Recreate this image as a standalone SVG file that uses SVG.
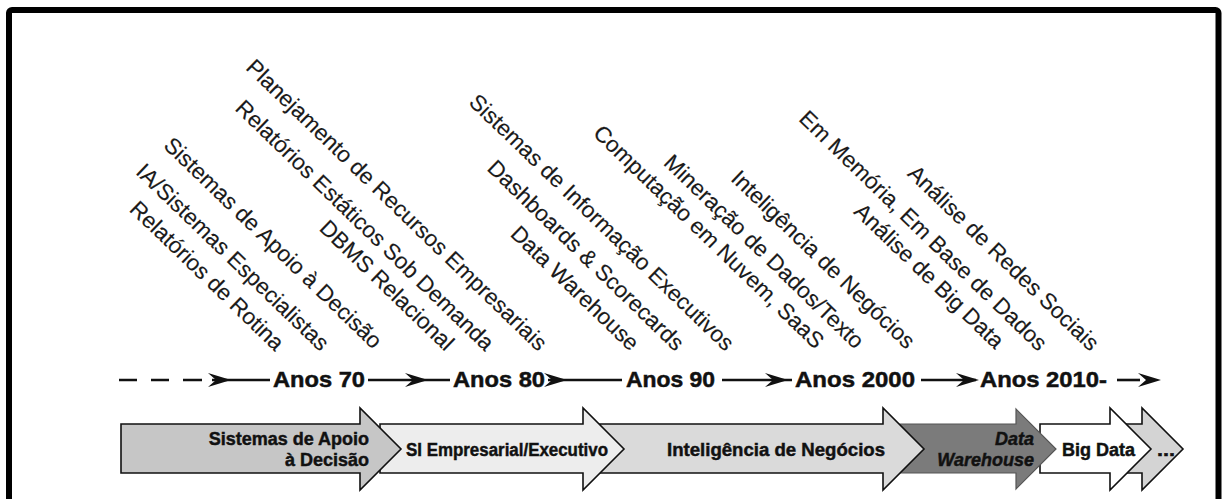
<svg xmlns="http://www.w3.org/2000/svg" xmlns:xlink="http://www.w3.org/1999/xlink" width="1224" height="499" viewBox="0 0 1224 499">
<style>
.lbl{font-family:"Liberation Sans",Arial,Helvetica,sans-serif;font-size:22.5px;fill:#1a1a1a;text-anchor:end;stroke:#1a1a1a;stroke-width:0.15}
.era{font-family:"Liberation Sans",Arial,Helvetica,sans-serif;font-size:22px;font-weight:bold;fill:#111;stroke:#111;stroke-width:0.5}
.band{font-family:"Liberation Sans",Arial,Helvetica,sans-serif;font-size:18px;font-weight:bold;fill:#111;stroke:#111;stroke-width:0.45}
.tl{stroke:#111;stroke-width:2.6;fill:none}
.arr{stroke:#111;stroke-width:1.6;stroke-linejoin:miter}
</style>
<defs>
<path id="ah" d="M0,0 L-23,-7 L-15,0 L-23,7 Z" fill="#111"/>
</defs>
<rect x="9" y="10" width="1209.5" height="520" rx="3" fill="#fff" stroke="#000" stroke-width="6"/>

<g id="labels">
<text id="l1" class="lbl" transform="translate(275,352) rotate(44)">Relatórios de Rotina</text>
<text id="l2" class="lbl" transform="translate(320,352) rotate(44)">IA/Sistemas Especialistas</text>
<text id="l3" class="lbl" transform="translate(373,350) rotate(44)">Sistemas de Apoio à Decisão</text>
<text id="l4" class="lbl" transform="translate(445,352) rotate(44)">DBMS Relacional</text>
<text id="l5" class="lbl" transform="translate(485,352) rotate(44)">Relatórios Estáticos Sob Demanda</text>
<text id="l6" class="lbl" transform="translate(538,352) rotate(44)">Planejamento de Recursos Empresariais</text>
<text id="l7" class="lbl" transform="translate(630,352) rotate(44)">Data Warehouse</text>
<text id="l8" class="lbl" transform="translate(675,352) rotate(44)">Dashboards &amp; Scorecards</text>
<text id="l9" class="lbl" transform="translate(725,352) rotate(44)">Sistemas de Informação Executivos</text>
<text id="l10" class="lbl" transform="translate(815,350) rotate(44)">Computação em Nuvem, SaaS</text>
<text id="l11" class="lbl" transform="translate(855,350) rotate(44)">Mineração de Dados/Texto</text>
<text id="l12" class="lbl" transform="translate(906,350) rotate(44)">Inteligência de Negócios</text>
<text id="l13" class="lbl" transform="translate(995,350) rotate(44)">Análise de Big Data</text>
<text id="l14" class="lbl" transform="translate(1038,352) rotate(44)">Em Memória, Em Base de Dados</text>
<text id="l15" class="lbl" transform="translate(1090,352) rotate(44)">Análise de Redes Sociais</text>
</g>

<g id="connectors">
<path class="tl" d="M119,380 H137 M151,380 H169 M183,380 H202 M212,380 H270"/>
<path class="tl" d="M368,380 H450"/>
<path class="tl" d="M548,380 H622"/>
<path class="tl" d="M722,380 H792"/>
<path class="tl" d="M921,380 H976"/>
<path class="tl" d="M1117,380 H1140"/>
<use xlink:href="#ah" x="231" y="380"/>
<use xlink:href="#ah" x="428" y="380"/>
<use xlink:href="#ah" x="567" y="380"/>
<use xlink:href="#ah" x="788" y="380"/>
<use xlink:href="#ah" x="979" y="380"/>
<use xlink:href="#ah" x="1161" y="380"/>
</g>

<g id="eras">
<text id="e70" class="era" x="273" y="387" textLength="92" lengthAdjust="spacingAndGlyphs">Anos 70</text>
<text id="e80" class="era" x="453" y="387" textLength="92" lengthAdjust="spacingAndGlyphs">Anos 80</text>
<text id="e90" class="era" x="626" y="387" textLength="89" lengthAdjust="spacingAndGlyphs">Anos 90</text>
<text id="e2000" class="era" x="795" y="387" textLength="120" lengthAdjust="spacingAndGlyphs">Anos 2000</text>
<text id="e2010" class="era" x="980" y="387" textLength="127" lengthAdjust="spacingAndGlyphs">Anos 2010-</text>
</g>

<g id="band">
<g id="a6"><polygon class="arr" fill="#d4d4d4" points="1120,424 1142,424 1142,408 1183,449 1142,490 1142,473 1120,473"/>
<text class="band" x="1157" y="456" textLength="18" lengthAdjust="spacingAndGlyphs">...</text></g>
<g id="a5"><polygon class="arr" fill="#ffffff" points="1040,424 1110,424 1110,408 1151,449 1110,490 1110,473 1040,473"/>
<text class="band" x="1062" y="456" textLength="73" lengthAdjust="spacingAndGlyphs">Big Data</text></g>
<g id="a4"><polygon fill="#7b7b7b" stroke="#555" stroke-width="1.2" points="900,424 1016,424 1016,409 1056,449 1016,489 1016,473 900,473"/>
<text class="band" x="1034" y="445" text-anchor="end" font-style="italic" fill="#fff" stroke="#fff" stroke-width="0.35">Data</text>
<text class="band" x="1034" y="466" text-anchor="end" font-style="italic" fill="#fff" stroke="#fff" stroke-width="0.35">Warehouse</text></g>
<g id="a3"><polygon class="arr" fill="#dadada" points="600,424 883,424 883,408 924,449 883,490 883,473 600,473"/>
<text class="band" x="667" y="456" textLength="218" lengthAdjust="spacingAndGlyphs">Inteligência de Negócios</text></g>
<g id="a2"><polygon class="arr" fill="#ededed" points="380,424 583,424 583,408 624,449 583,490 583,473 380,473"/>
<text class="band" x="406" y="456" textLength="202" lengthAdjust="spacingAndGlyphs">SI Empresarial/Executivo</text></g>
<g id="a1"><polygon class="arr" fill="#c6c6c6" points="121,424 360,424 360,408 401,449 360,490 360,473 121,473"/>
<text class="band" x="369" y="445" text-anchor="end">Sistemas de Apoio</text>
<text class="band" x="369" y="466" text-anchor="end">à Decisão</text></g>
</g>
</svg>
